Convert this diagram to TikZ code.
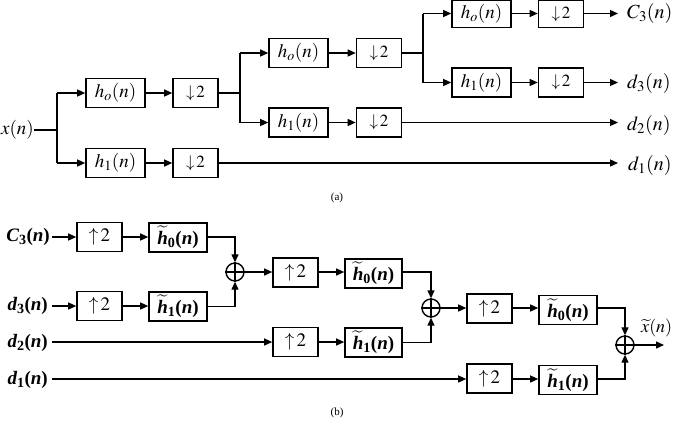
\documentclass[tikz,border=0pt]{standalone}
\usepackage{mathptmx}
\usepackage{fontspec}
\setmainfont{Liberation Serif}
\usetikzlibrary{arrows.meta}
\newcommand{\bi}[1]{{\bfseries\itshape #1}}
\newcommand{\bsub}[1]{\textsubscript{\bfseries #1}}
\newcommand{\bpn}{{\bfseries(}\bi{n}{\bfseries)}}
\newcommand{\bht}[1]{$\widetilde{\hbox{\bi{h}}}$\bsub{#1}\bpn}
\tikzset{
  blk/.style={draw, line width=1.6pt, minimum height=29pt, inner sep=0pt, font=\fontsize{19}{21}\selectfont},
  hbox/.style={blk, minimum width=59pt},
  dbox/.style={blk, minimum width=45pt, font=\fontsize{17}{19}\selectfont},
  bblk/.style={blk, font=\fontsize{19}{21}\selectfont},
  sumnode/.style={draw, circle, line width=1.4pt, minimum size=18pt, inner sep=0pt},
  con/.style={line width=1.3pt},
  arr/.style={con, -{Triangle[length=8pt,width=7pt]}},
  lab/.style={font=\fontsize{20}{22}\selectfont, inner sep=0pt},
  blab/.style={font=\fontsize{19}{21}\selectfont, inner sep=0pt},
  captext/.style={font=\fontsize{11}{13}\selectfont, inner sep=0pt}
}
\newcommand{\plusmark}[1]{\draw[line width=1.1pt] (#1.north) -- (#1.south) (#1.west) -- (#1.east);}
\begin{document}
\begin{tikzpicture}[x=1pt,y=-1pt]
\useasboundingbox (0,0) rectangle (683,424);
% ---------------- (a) ----------------
\node[lab, anchor=east, font=\fontsize{19}{21}\selectfont] (xn) at (34,130) {$x(n)$};
\coordinate (b1) at (57,130);
\coordinate (b1t) at (57,93);
\coordinate (b1b) at (57,163);
\node[hbox] (a1) at (115.5,93) {$h_o(n)$};
\node[dbox] (a2) at (195.5,93) {$\downarrow\!2$};
\node[hbox] (a3) at (115.5,163) {$h_1(n)$};
\node[dbox] (a4) at (195.5,163) {$\downarrow\!2$};
\draw[con] (xn.east) -- (b1);
\draw[con] (b1t) -- (b1b);
\draw[arr] (b1t) -- (a1.west);
\draw[arr] (b1b) -- (a3.west);
\draw[arr] (a1) -- (a2);
\draw[arr] (a3) -- (a4);
% level 2
\coordinate (b2) at (240,93);
\coordinate (b2t) at (240,53);
\coordinate (b2b) at (240,122.5);
\node[hbox] (c1) at (298.5,53) {$h_o(n)$};
\node[dbox] (c2) at (379,53) {$\downarrow\!2$};
\node[hbox] (c3) at (298.5,122.5) {$h_1(n)$};
\node[dbox] (c4) at (379,122.5) {$\downarrow\!2$};
\draw[con] (a2.east) -- (b2);
\draw[con] (b2t) -- (b2b);
\draw[arr] (b2t) -- (c1.west);
\draw[arr] (b2b) -- (c3.west);
\draw[arr] (c1) -- (c2);
\draw[arr] (c3) -- (c4);
% level 3
\coordinate (b3) at (423,53);
\coordinate (b3t) at (423,13.5);
\coordinate (b3b) at (423,82.5);
\node[hbox, minimum height=27pt] (e1) at (481.5,14) {$h_o(n)$};
\node[dbox, minimum height=27pt] (e2) at (561,14) {$\downarrow\!2$};
\node[hbox] (e3) at (481.5,82.5) {$h_1(n)$};
\node[dbox] (e4) at (561,82.5) {$\downarrow\!2$};
\draw[con] (c2.east) -- (b3);
\draw[con] (b3t) -- (b3b);
\draw[arr] (b3t) -- (e1.west|-b3t);
\draw[arr] (b3b) -- (e3.west);
\draw[arr] (e1.east|-b3t) -- (e2.west|-b3t);
\draw[arr] (e3) -- (e4);
% outputs
\node[lab, anchor=west] (o1) at (627,13) {$C_3(n)$};
\node[lab, anchor=west] (o2) at (627,83) {$d_3(n)$};
\node[lab, anchor=west] (o3) at (627,125) {$d_2(n)$};
\node[lab, anchor=west] (o4) at (628,165) {$d_1(n)$};
\coordinate (t1) at (618,13.5);
\coordinate (t2) at (618,82.5);
\coordinate (t3) at (618,122.5);
\coordinate (t4) at (618,163);
\draw[arr] (e2.east|-t1) -- (t1);
\draw[arr] (e4.east) -- (t2);
\draw[arr] (c4.east) -- (t3);
\draw[arr] (a4.east) -- (t4);
\node[captext] (capa) at (337,198) {(a)};
% ---------------- (b) ----------------
\node[blab, anchor=east] (i1) at (50,237) {\bi{C}\bsub{3}\bpn};
\node[blab, anchor=east] (i2) at (48,306) {\bi{d}\bsub{3}\bpn};
\node[blab, anchor=east] (i3) at (48,343) {\bi{d}\bsub{2}\bpn};
\node[blab, anchor=east] (i4) at (48,380) {\bi{d}\bsub{1}\bpn};
\coordinate (s1) at (52,237);
\coordinate (s2) at (52,306);
\coordinate (s3) at (52,342);
\coordinate (s4) at (52,379);
\node[dbox, bblk] (u1) at (99.5,237) {$\uparrow\!2$};
\node[hbox, bblk, minimum width=58pt] (g1) at (178,237.5) {\bht{0}};
\node[dbox, bblk] (u2) at (99.5,306) {$\uparrow\!2$};
\node[hbox, bblk, minimum width=58pt] (g2) at (178,306.5) {\bht{1}};
\node[sumnode] (p1) at (235,272) {};
\plusmark{p1}
\draw[arr] (s1) -- (u1.west|-s1);
\draw[arr] (s2) -- (u2.west|-s2);
\draw[arr] (u1.east|-s1) -- (g1.west|-s1);
\draw[arr] (u2.east|-s2) -- (g2.west|-s2);
\draw[arr] (g1.east|-s1) -| (p1.north);
\draw[arr] (g2.east) -| (p1.south);
% stage 2
\node[dbox, bblk] (u3) at (295.5,272.5) {$\uparrow\!2$};
\node[hbox, bblk, minimum width=57pt] (g3) at (373.5,273.5) {\bht{0}};
\node[dbox, bblk] (u4) at (295.5,342) {$\uparrow\!2$};
\node[hbox, bblk, minimum width=57pt] (g4) at (373.5,342.5) {\bht{1}};
\node[sumnode] (p2) at (431,308) {};
\plusmark{p2}
\draw[arr] (p1.east) -- (u3.west|-p1);
\draw[arr] (s3) -- (u4.west|-s3);
\draw[arr] (u3.east|-p1) -- (g3.west|-p1);
\draw[arr] (u4.east|-s3) -- (g4.west|-s3);
\draw[arr] (g3.east|-p1) -| (p2.north);
\draw[arr] (g4.east) -| (p2.south);
% stage 3
\node[dbox, bblk] (u5) at (489.5,308.5) {$\uparrow\!2$};
\node[hbox, bblk, minimum width=58pt] (g5) at (568,310) {\bht{0}};
\node[dbox, bblk] (u6) at (489.5,378.5) {$\uparrow\!2$};
\node[hbox, bblk, minimum width=58pt] (g6) at (568,380) {\bht{1}};
\node[sumnode] (p3) at (625,345) {};
\plusmark{p3}
\draw[arr] (p2.east) -- (u5.west|-p2);
\draw[arr] (s4) -- (u6.west|-s4);
\draw[arr] (u5.east|-p2) -- (g5.west|-p2);
\draw[arr] (u6.east|-s4) -- (g6.west|-s4);
\draw[arr] (g5.east|-p2) -| (p3.north);
\draw[arr] (g6.east|-s4) -| (p3.south);
\coordinate (out) at (664,345);
\draw[arr] (p3.east) -- (out);
\node[lab, anchor=south west, font=\fontsize{18}{20}\selectfont] (xt) at (641,337) {$\widetilde{x}(n)$};
\node[captext] (capb) at (337,413) {(b)};
\end{tikzpicture}
\end{document}
